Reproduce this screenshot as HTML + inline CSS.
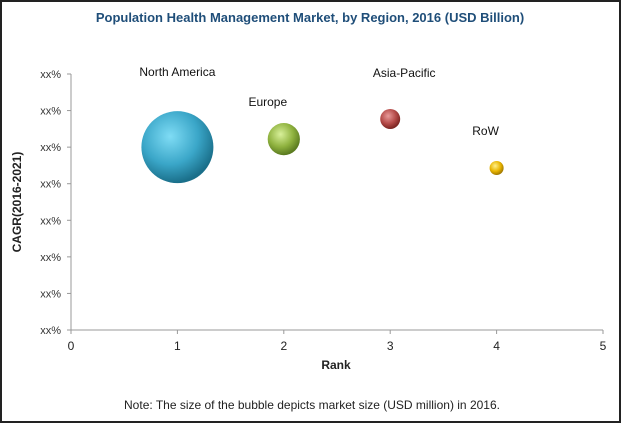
<!DOCTYPE html>
<html><head><meta charset="utf-8"><style>
html,body{margin:0;padding:0;background:#fff;}
svg{display:block;}
text{font-family:"Liberation Sans",Arial,sans-serif;}
</style></head><body>
<svg id="chart" width="621" height="423" viewBox="0 0 621 423">
<defs>
<radialGradient id="gNA" cx="0.4" cy="0.35" r="0.65"><stop offset="0" stop-color="#7fdcf5"/><stop offset="0.6" stop-color="#3aa6c8"/><stop offset="1" stop-color="#1a6f8a"/></radialGradient>
<radialGradient id="gEU" cx="0.4" cy="0.35" r="0.65"><stop offset="0" stop-color="#d8f09a"/><stop offset="0.6" stop-color="#8fb23f"/><stop offset="1" stop-color="#5a7a20"/></radialGradient>
<radialGradient id="gAP" cx="0.4" cy="0.35" r="0.65"><stop offset="0" stop-color="#e89a9a"/><stop offset="0.6" stop-color="#b44a48"/><stop offset="1" stop-color="#7a2522"/></radialGradient>
<radialGradient id="gRW" cx="0.4" cy="0.35" r="0.65"><stop offset="0" stop-color="#fff08a"/><stop offset="0.6" stop-color="#e8b400"/><stop offset="1" stop-color="#a07800"/></radialGradient>
</defs>
<rect x="1" y="1" width="619" height="421" fill="#fff" stroke="#222" stroke-width="2"/>
<text x="310" y="22" text-anchor="middle" font-size="13" font-weight="bold" fill="#1f4e79">Population Health Management Market, by Region, 2016 (USD Billion)</text>
<g id="axes"></g>
<g id="bubbles"></g>
<text x="336" y="369" text-anchor="middle" font-size="12" font-weight="bold" fill="#222">Rank</text>
<text transform="translate(21,202) rotate(-90)" text-anchor="middle" font-size="12" font-weight="bold" fill="#222">CAGR(2016-2021)</text>
<text x="312" y="409" text-anchor="middle" font-size="12" fill="#222">Note: The size of the bubble depicts market size (USD million) in 2016.</text>
</svg>
<script>
const regions = ["North America","Europe","Asia-Pacific","RoW"];
const ranks = [1,2,3,4];
const cagr = [5,5.22,5.77,4.43];
const sizes = [100,20,7.7,3.8];
const xTicks = ["0","1","2","3","4","5"];
const yTicks = ["xx%","xx%","xx%","xx%","xx%","xx%","xx%","xx%"];
const fills = ["url(#gNA)","url(#gEU)","url(#gAP)","url(#gRW)"];
const labelPos = [[0,-75],[-16,-37],[14,-46],[-11,-37]];

const NS="http://www.w3.org/2000/svg";
const X0=71,X1=603,Y0=330,Y1=74;
const xs=v=>X0+(v/5)*(X1-X0);
const ys=v=>Y0-(v/7)*(Y0-Y1);
const rs=s=>36*Math.sqrt(s/100);
function mk(t,a,p){const e=document.createElementNS(NS,t);for(const k in a)e.setAttribute(k,a[k]);p.appendChild(e);return e;}
const ax=document.getElementById('axes');
let l=mk('line',{x1:X0,y1:Y1,x2:X0,y2:Y0,stroke:'#999'},ax);


l=mk('line',{x1:X0,y1:Y0,x2:X1,y2:Y0,stroke:'#999'},ax);


yTicks.forEach((t,i)=>{const y=ys(i);
 mk('line',{x1:X0-4,y1:y,x2:X0,y2:y,stroke:'#999'},ax);
 const e=mk('text',{x:X0-10,y:y+4,'text-anchor':'end','font-size':11,fill:'#333'},ax);e.textContent=t;
 
 });
xTicks.forEach((t,i)=>{const x=xs(i);
 mk('line',{x1:x,y1:Y0,x2:x,y2:Y0+4,stroke:'#999'},ax);
 const e=mk('text',{x:x,y:Y0+20,'text-anchor':'middle','font-size':12,fill:'#222'},ax);e.textContent=t;
 
 });
const bg=document.getElementById('bubbles');
regions.forEach((r,i)=>{const cx=xs(ranks[i]),cy=ys(cagr[i]);
 const c=mk('circle',{cx:cx,cy:cy,r:rs(sizes[i]),fill:fills[i]},bg);
 
 
 const t=mk('text',{x:cx+labelPos[i][0],y:cy+labelPos[i][1]+4,'text-anchor':'middle','font-size':12,fill:'#111'},bg);t.textContent=r;
 
 });
</script>
</body></html>
